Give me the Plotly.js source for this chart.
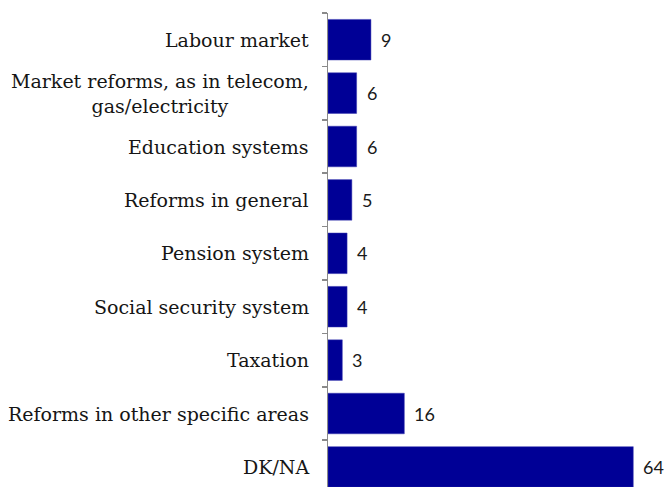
<!DOCTYPE html>
<html>
<head>
<meta charset="utf-8">
<script src="https://cdn.plot.ly/plotly-3.0.1.min.js"></script>
<style>html,body{margin:0;padding:0;background:#fff;}#chart{width:670px;height:487px;}</style>
</head>
<body>
<div id="chart"></div>
<script>
var categories = ["Labour market", "Market reforms, as in telecom,<br>gas/electricity", "Education systems", "Reforms in general", "Pension system", "Social security system", "Taxation", "Reforms in other specific areas", "DK/NA"];
var values = [9, 6, 6, 5, 4, 4, 3, 16, 64];
var valueLabels = ["9", "6", "6", "5", "4", "4", "3", "16", "64"];

var barColor = "#000096";

var trace = {
  type: "bar",
  orientation: "h",
  x: values,
  y: categories,
  marker: {color: barColor, line: {color: "#3a3ab0", width: 0.5}},
  hoverinfo: "none"
};

var annotations = [];
for (var i = 0; i < categories.length; i++) {
  annotations.push({
    x: values[i], y: categories[i], xref: "x", yref: "y",
    text: valueLabels[i], showarrow: false, xanchor: "left", xshift: 8,
    font: {family: "Lato, 'Open Sans', sans-serif", size: 18, color: "#1a1a1a"}
  });
  annotations.push({
    x: 0, y: categories[i], xref: "paper", yref: "y",
    text: categories[i], showarrow: false, xanchor: "right", align: "center",
    xshift: -17,
    font: {family: "'DejaVu Serif', serif", size: 19, color: "#151515"}
  });
}

var layout = {
  width: 670, height: 487,
  margin: {l: 328, r: 0, t: 13, b: 0, pad: 0},
  paper_bgcolor: "#fff", plot_bgcolor: "#fff",
  showlegend: false,
  bargap: 0.24,
  xaxis: {range: [0, 71.7], visible: false, fixedrange: true},
  yaxis: {
    type: "category",
    range: [8.376, -0.5],
    showticklabels: false,
    ticks: "outside", tickson: "boundaries", ticklen: 5,
    tickcolor: "#8a8a8a", tickwidth: 1.5,
    showline: true, linecolor: "#8a8a8a", linewidth: 1.5,
    showgrid: false, zeroline: false, fixedrange: true
  },
  annotations: annotations
};

Plotly.newPlot("chart", [trace], layout, {staticPlot: true, displayModeBar: false});
</script>
</body>
</html>
